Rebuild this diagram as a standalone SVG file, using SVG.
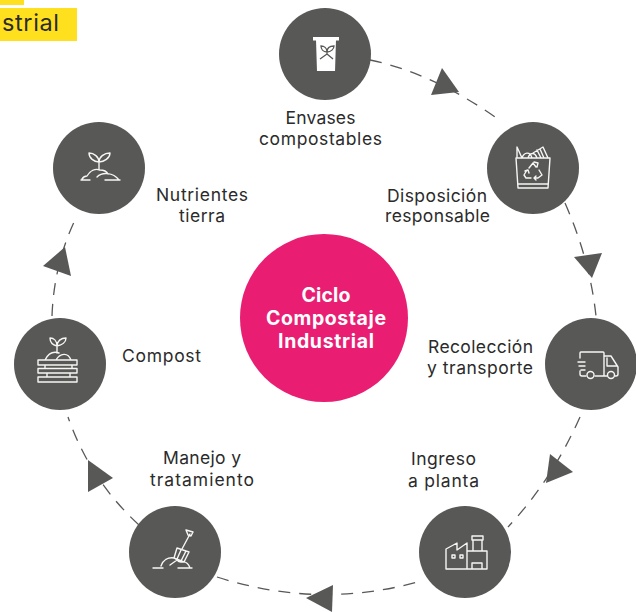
<svg xmlns="http://www.w3.org/2000/svg" width="636" height="612" viewBox="0 0 636 612">
<style>
.n{fill:#585856}
.l{font-family:Inter,"Liberation Sans",sans-serif;font-size:17.500px;fill:#2b2b2b;text-anchor:middle}
.c{font-family:Inter,"Liberation Sans",sans-serif;font-size:19.500px;font-weight:700;fill:#fff;text-anchor:middle}
.i{fill:none;stroke:#f6f6f4;stroke-width:1.400;stroke-linecap:round;stroke-linejoin:round}
.d{fill:none;stroke:#585856;stroke-width:1.300;stroke-dasharray:12 9}
.a{fill:#585856}
</style>
<rect x="0" y="0" width="24" height="5" fill="#ffe01f"/>
<rect x="0" y="8" width="77" height="33" fill="#ffe01f"/>
<text x="2" y="31" font-family="Inter,'Liberation Sans',sans-serif" font-size="23.500" fill="#2b2b2b" textLength="57">strial</text>
<g id="connectors">
<path class="d" d="M370 60Q436 74 502 122"/>
<path class="d" d="M565 203Q590 260 596 316"/>
<path class="d" d="M580 417Q552 480 508 527"/>
<path class="d" d="M217 577Q320 610 421 581"/>
<path class="d" d="M139 525Q90 480 68 417"/>
<path class="d" d="M52 316Q54 262 77 216"/>
<polygon class="a" points="442,68 459,92 431,95"/>
<polygon class="a" points="574,257 602,253 592,278"/>
<polygon class="a" points="550,454 573,472 546,483"/>
<polygon class="a" points="333,585 306,598 332,612"/>
<polygon class="a" points="88,460 113,478 88,492"/>
<polygon class="a" points="65,247 43,266 71,276"/>
</g>
<g id="center"><circle cx="324" cy="318" r="84" fill="#e91e73"/>
<text class="c" x="326" y="302" textLength="49">Ciclo</text>
<text class="c" x="326" y="325" textLength="120">Compostaje</text>
<text class="c" x="326" y="348" textLength="96">Industrial</text></g>
<g id="envases"><circle class="n" cx="325" cy="54" r="46"/>
<rect x="313" y="37" width="26" height="3.500" fill="#fff"/><path d="M316 40H336L335 71H317Z" fill="#fff"/>
<path d="M327 52V54M327 54L320 59M327 54L333 59M327 52C323 52 321 49 321 46C324 46 327 48 327 52C327 48 330 46 334 46C334 49 331 52 327 52" fill="none" stroke="#585856" stroke-width="1.300"/>
<text class="l" x="320.500" y="124" textLength="70">Envases</text><text class="l" x="320.500" y="145" textLength="123">compostables</text></g>
<g id="disposicion"><circle class="n" cx="533" cy="168" r="46"/>
<path class="i" d="M516 158H550M516 158L518 188H548L550 158M518 184H548M517 158L517 147L522 158M522 158C524 152 530 151 532 158M528 158C530 152 535 152 537 158M533 153L543 147L548 158M537 150L541 158M540 149L544 158"/>
<path class="i" d="M529 168L533 163L536 167M534 162L538 163L537 167M539 170L542 175L538 178H534M536 176L534 178L536 180M531 178H526L524 175L527 170M525 171L528 170L529 173"/>
<text class="l" x="437" y="202" textLength="100">Disposición</text><text class="l" x="437.500" y="222" textLength="105">responsable</text></g>
<g id="recoleccion"><circle class="n" cx="591" cy="364" r="46"/>
<path class="i" d="M580 358V353Q580 352 581 352H603Q604 352 604 353V376H595M586 376H582Q580 376 580 374V371M604 356H611L618 367V374Q618 376 616 376H615M607 376H604M607 358V366H617M578 362H585M579 366H585M581 370H585"/>
<circle class="i" cx="590.500" cy="375" r="3.500"/><circle class="i" cx="611" cy="375" r="3.500"/>
<text class="l" x="480.500" y="353" textLength="105">Recolección</text><text class="l" x="480" y="374" textLength="106">y transporte</text></g>
<g id="ingreso"><circle class="n" cx="465" cy="552" r="46"/>
<path class="i" d="M446 569V549L457 543V550L467 543V569ZM467 551H487V569H446M473 551V540H482V551M472 536H483V540H472ZM472 569V563H482V569"/>
<path class="i" d="M452 555h3v3h-3zM460 555h3v3h-3z"/>
<text class="l" x="443.500" y="465" textLength="65">Ingreso</text><text class="l" x="443.500" y="487" textLength="71">a planta</text></g>
<g id="manejo"><circle class="n" cx="175" cy="552" r="46"/>
<path class="i" d="M153 568H163M178 568H192M161 566C163 560 168 557 174 558C178 559 177 563 182 562C187 561 189 565 190 568M170 565L177 560M190 534L182 549M186 530L193 532L191 536L188 535ZM177 548L189 552L184 562L174 558Z M181 550L177 559M186 551L181 561"/>
<text class="l" x="202" y="464" textLength="78">Manejo y</text><text class="l" x="202" y="486" textLength="104">tratamiento</text></g>
<g id="compost"><circle class="n" cx="60" cy="364" r="46"/>
<path class="i" d="M38 360H77V365H38ZM38 368.500H77V373H38ZM38 377H77V382H38ZM45 365V368.500M47 373V377M72 365V368.500M70 373V377M45 360C48 354 53 351 59 353M56 360C60 353 68 352 71 360M57 353V346M57 346C53 345 50 342 50 338C54 338 57 341 57 346C57 341 61 338 66 338C66 342 62 345 57 346"/>
<text class="l" x="161.500" y="362" textLength="79">Compost</text></g>
<g id="nutrientes"><circle class="n" cx="99" cy="168" r="46"/>
<path class="i" d="M81 180H90M82 179C84 176 86 176 87 176C90 171 95 168 100 170C105 170 107 172 108 174M97 177C102 172 113 172 119 180M105 180H120M99 170V162M99 162C94 162 89 158 89 153C94 153 99 157 99 162C99 157 104 153 110 153C110 158 104 162 99 162"/>
<text class="l" x="202" y="201" textLength="92">Nutrientes</text><text class="l" x="202" y="222" textLength="46">tierra</text></g>
</svg>
